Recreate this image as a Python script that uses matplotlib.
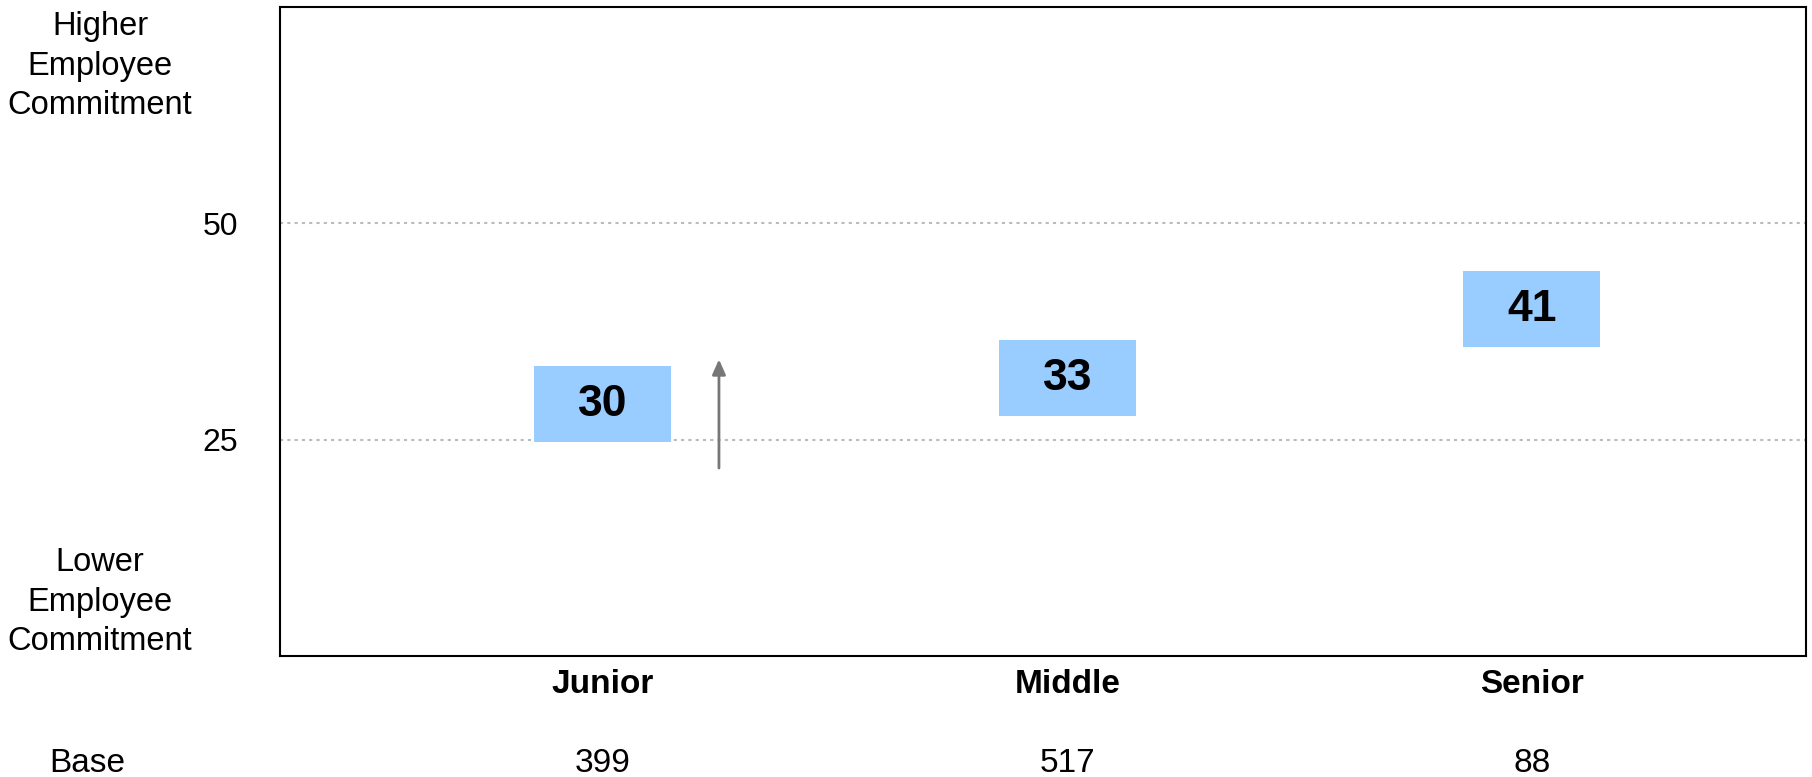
import matplotlib.pyplot as plt

plt.rcParams["font.family"] = ["Liberation Sans", "DejaVu Sans"]

# commitment index by seniority band
levels = ["Junior", "Middle", "Senior"]
scores = [30, 33, 41]
bases = [399, 517, 88]

# arrow next to the junior band
arrow_x = 0.25
arrow_from = 21.4
arrow_to = 34.6

box_w = 0.295
box_h = 8.8
box_shift = -0.9  # boxes sit a touch below their score

fig = plt.figure(figsize=(18.12, 7.77), dpi=100)
ax = fig.add_axes([0.1545, 0.1557, 0.8422, 0.8353])

xs = list(range(len(levels)))
mids = [s + box_shift for s in scores]
ax.bar(xs, [box_h] * len(xs), bottom=[m - box_h / 2 for m in mids],
       width=box_w, color="#99ccff", zorder=3)
for x, m, s in zip(xs, mids, scores):
    ax.text(x, m, str(s), ha="center", va="center", fontsize=32,
            fontweight="bold", zorder=4)

ax.annotate("", xy=(arrow_x, arrow_to), xytext=(arrow_x, arrow_from),
            arrowprops=dict(arrowstyle="-|>,head_length=0.9,head_width=0.4",
                            color="#777777", lw=2), zorder=4)

ax.set_xlim(-0.695, 2.59)
ax.set_ylim(0, 75)
ax.set_yticks([25, 50])
ax.set_yticklabels(["25", "50"], fontsize=23)
ax.yaxis.grid(True, linestyle=(0, (1.5, 2)), color="#bbbbbb", lw=1.5, zorder=1)
ax.set_xticks(xs)
ax.set_xticklabels(levels, fontsize=24, fontweight="bold")
ax.tick_params(axis="both", length=0)
ax.tick_params(axis="y", pad=30)
ax.tick_params(axis="x", pad=9)
for sp in ax.spines.values():
    sp.set_linewidth(1.5)
    sp.set_color("black")

fig.text(100 / 1812, 1 - 66 / 777, "Higher\nEmployee\nCommitment", ha="center",
         va="center", fontsize=23.5, linespacing=1.36)
fig.text(100 / 1812, 1 - 602 / 777, "Lower\nEmployee\nCommitment", ha="center",
         va="center", fontsize=23.5, linespacing=1.36)
fig.text(87 / 1812, 1 - 763 / 777, "Base", ha="center", va="center", fontsize=24)
for x, b in zip(xs, bases):
    ax.text(x, -0.165, str(b), transform=ax.get_xaxis_transform(),
            ha="center", va="center", fontsize=24)

fig.savefig("out.png", dpi=100)
